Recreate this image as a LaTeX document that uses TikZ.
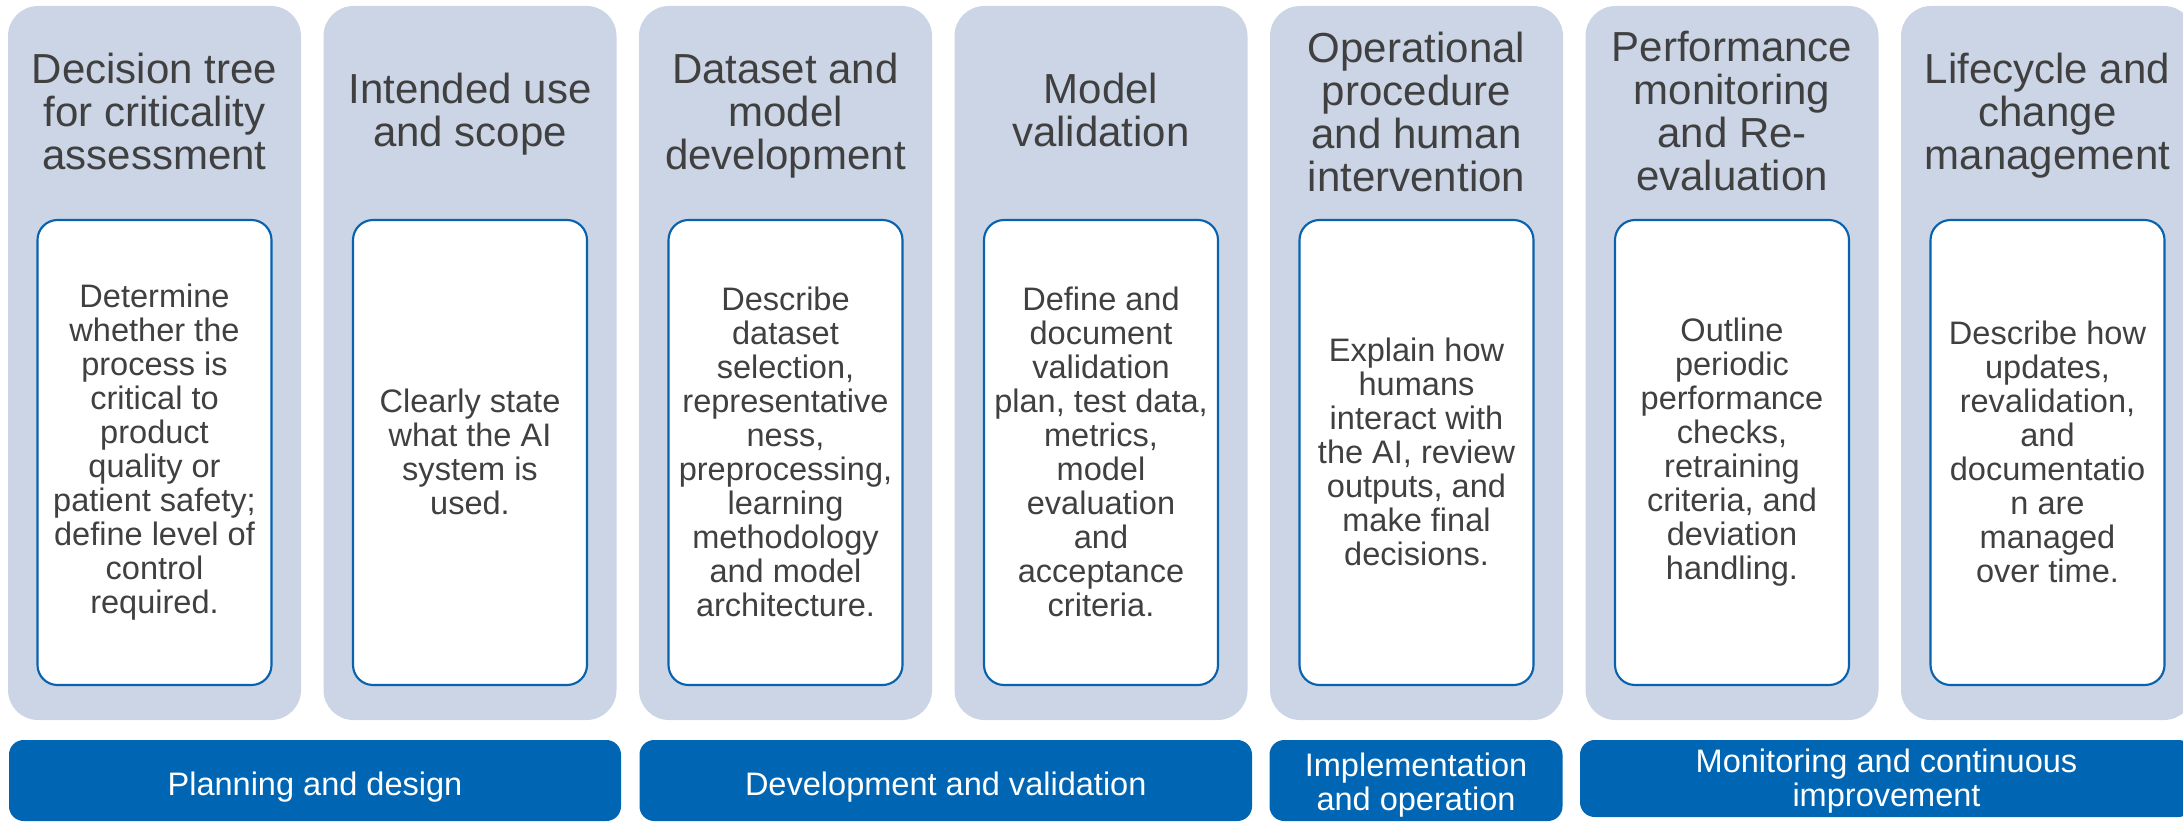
\documentclass[tikz,border=0pt]{standalone}
\usepackage{fontspec}
\setmainfont{Liberation Sans}
\definecolor{panel}{HTML}{CBD5E6}
\definecolor{barblue}{HTML}{0066B3}
\definecolor{boxline}{HTML}{0862AE}
\definecolor{txt}{HTML}{404040}
\begin{document}
\begin{tikzpicture}[x=0.75pt,y=-0.75pt,
  title/.style={align=center, text=txt, font=\fontsize{31.5pt}{32.25pt}\selectfont, inner sep=0pt, anchor=north},
  body/.style={align=center, text=txt, font=\fontsize{24.4pt}{25.5pt}\selectfont, inner sep=0pt, anchor=center},
  bartext/.style={align=center, text=white, font=\fontsize{24.4pt}{25.5pt}\selectfont, inner sep=0pt},
  panelbox/.style={fill=panel, rounded corners=22.5pt},
  innerbox/.style={draw=boxline, line width=1.6pt, fill=white, rounded corners=15pt},
  phasebar/.style={fill=barblue, rounded corners=11pt}]
\useasboundingbox (0,0) rectangle (2183,823);
\begin{scope}
\clip (0,0) rectangle (2183,823);
\foreach \i/\x in {1/8, 2/323.5, 3/639, 4/954.5, 5/1270, 6/1585.5, 7/1901}{
  \path[panelbox] (\x,6) rectangle ++(293,714);
  \path[innerbox] (\x+29.5,220) rectangle ++(234,465);
}
\path[phasebar] (9,740) rectangle (621,821);
\path[phasebar] (639.5,740) rectangle (1252,821);
\path[phasebar] (1269.5,740) rectangle (1562.5,821);
\path[phasebar] (1580,740) rectangle (2193,817);
\end{scope}

\node[title] (t1) at (154.5,53) {Decision tree\\for criticality\\assessment};
\node[title] (t2) at (470,73) {Intended use\\and scope};
\node[title] (t3) at (785.5,53) {Dataset and\\model\\development};
\node[title] (t4) at (1101,73) {Model\\validation};
\node[title] (t5) at (1416.5,32) {Operational\\procedure\\and human\\intervention};
\node[title] (t6) at (1732,31) {Performance\\monitoring\\and Re-\\evaluation};
\node[title] (t7) at (2047.5,53) {Lifecycle and\\change\\management};

\node[body] (d1) at (154.5,452) {Determine\\whether the\\process is\\critical to\\product\\quality or\\patient safety;\\define level of\\control\\required.};
\node[body] (d2) at (470,452) {Clearly state\\what the AI\\system is\\used.};
\node[body] (d3) at (785.5,452) {Describe\\dataset\\selection,\\representative\\ness,\\preprocessing,\\learning\\methodology\\and model\\architecture.};
\node[body] (d4) at (1101,452) {Define and\\document\\validation\\plan, test data,\\metrics,\\model\\evaluation\\and\\acceptance\\criteria.};
\node[body] (d5) at (1416.5,452) {Explain how\\humans\\interact with\\the AI, review\\outputs, and\\make final\\decisions.};
\node[body] (d6) at (1732,452) {Outline\\periodic\\performance\\checks,\\retraining\\criteria, and\\deviation\\handling.};
\node[body] (d7) at (2047.5,452) {Describe how\\updates,\\revalidation,\\and\\documentatio\\n are\\managed\\over time.};

\node[bartext, anchor=base] (s1) at (315,795) {Planning and design};
\node[bartext, anchor=base] (s2) at (945.75,795) {Development and validation};
\node[bartext, anchor=north] (s3) at (1416,752.5) {Implementation\\and operation};
\node[bartext, anchor=north] (s4) at (1886.5,748.5) {Monitoring and continuous\\improvement};
\end{tikzpicture}
\end{document}
